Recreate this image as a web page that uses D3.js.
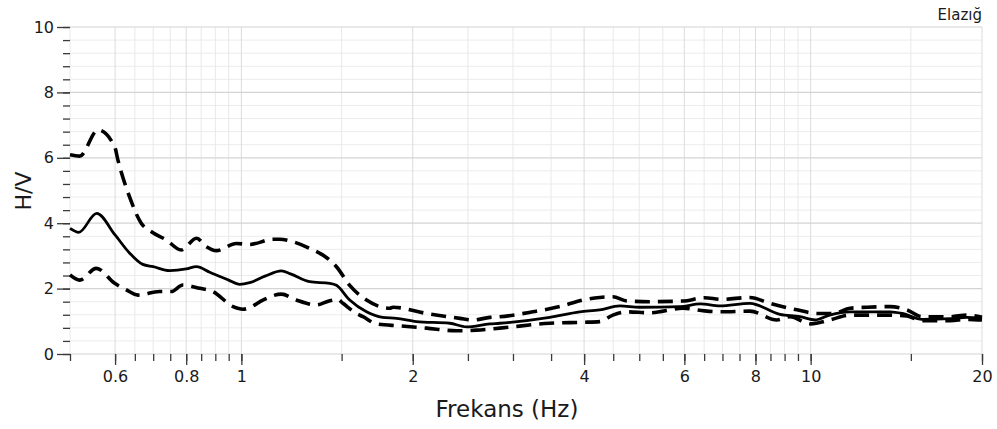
<!DOCTYPE html>
<html>
<head>
<meta charset="utf-8">
<script src="https://cdn.jsdelivr.net/npm/d3@7"></script>
<style>
  html, body { margin: 0; padding: 0; background: #fff; }
  svg { display: block; font-family: "DejaVu Sans", Verdana, sans-serif; }
</style>
</head>
<body>
<svg id="chart" width="997" height="429"></svg>
<script>
// ---- data ----
const meanFreq = [0.50, 0.518, 0.557, 0.60, 0.636, 0.671, 0.70, 0.748, 0.80, 0.834, 0.88, 0.95, 0.993, 1.034, 1.10, 1.176, 1.22, 1.318, 1.43, 1.469, 1.55, 1.659, 1.77, 1.873, 2.03, 2.323, 2.486, 2.732, 2.844, 3.48, 3.93, 4.26, 4.62, 5.01, 5.90, 6.40, 6.93, 7.82, 8.83, 9.58, 10.18, 10.8, 11.73, 13.8, 14.5, 15.7, 17.6, 18.8, 20];
const meanHV   = [3.84, 3.72, 4.30, 3.64, 3.09, 2.74, 2.67, 2.55, 2.60, 2.67, 2.50, 2.26, 2.13, 2.18, 2.38, 2.54, 2.45, 2.21, 2.16, 2.10, 1.65, 1.29, 1.12, 1.09, 0.99, 0.94, 0.83, 0.92, 0.94, 1.12, 1.29, 1.35, 1.47, 1.43, 1.45, 1.53, 1.47, 1.55, 1.21, 1.14, 1.04, 1.19, 1.29, 1.29, 1.24, 1.06, 1.08, 1.12, 1.09];

const upperFreq = [0.50, 0.52, 0.56, 0.599, 0.607, 0.636, 0.667, 0.695, 0.738, 0.784, 0.834, 0.868, 0.904, 0.98, 1.034, 1.137, 1.168, 1.216, 1.318, 1.43, 1.469, 1.55, 1.659, 1.822, 1.847, 2.114, 2.42, 2.55, 2.732, 2.844, 3.251, 3.626, 3.98, 4.26, 4.493, 4.756, 5.219, 5.965, 6.508, 6.969, 7.82, 8.483, 9.461, 10.26, 10.94, 11.73, 12.56, 13.8, 14.76, 15.7, 17.6, 18.8, 20];
const upperHV   = [6.09, 6.05, 6.85, 6.34, 5.93, 4.81, 4.00, 3.74, 3.49, 3.18, 3.54, 3.28, 3.16, 3.38, 3.35, 3.51, 3.51, 3.46, 3.23, 2.87, 2.67, 2.10, 1.65, 1.40, 1.43, 1.24, 1.09, 1.04, 1.12, 1.14, 1.29, 1.45, 1.65, 1.73, 1.75, 1.62, 1.60, 1.62, 1.72, 1.67, 1.73, 1.55, 1.35, 1.24, 1.24, 1.40, 1.43, 1.45, 1.35, 1.14, 1.14, 1.19, 1.12];

const lowerFreq = [0.50, 0.52, 0.556, 0.599, 0.628, 0.658, 0.718, 0.753, 0.789, 0.845, 0.891, 0.967, 1.006, 1.034, 1.091, 1.176, 1.249, 1.355, 1.43, 1.476, 1.508, 1.592, 1.636, 1.727, 1.898, 2.114, 2.388, 2.588, 2.844, 3.48, 3.98, 4.26, 4.493, 4.756, 5.219, 5.965, 6.508, 6.969, 7.82, 8.727, 9.195, 10.01, 10.8, 11.73, 13.8, 14.76, 15.7, 17.6, 18.8, 20];
const lowerHV   = [2.42, 2.26, 2.62, 2.16, 1.96, 1.80, 1.91, 1.91, 2.11, 2.01, 1.91, 1.45, 1.37, 1.42, 1.65, 1.83, 1.65, 1.50, 1.63, 1.67, 1.55, 1.24, 1.14, 0.92, 0.86, 0.79, 0.71, 0.73, 0.79, 0.94, 0.97, 0.99, 1.19, 1.29, 1.26, 1.40, 1.32, 1.29, 1.31, 1.04, 1.14, 0.92, 1.04, 1.19, 1.19, 1.16, 1.02, 1.02, 1.06, 1.04];

const xMinorTicks = [0.5, 0.6, 0.65, 0.7, 0.75, 0.8, 0.85, 0.9, 0.95, 1, 1.5, 2, 2.5, 3, 3.5, 4, 4.5, 5, 5.5, 6, 6.5, 7, 7.5, 8, 8.5, 9, 9.5, 10, 15, 20];
const xMajorTicks = [0.6, 0.8, 1, 2, 4, 6, 8, 10, 20];
const yMajorTicks = [0, 2, 4, 6, 8, 10];
const yMinorTicks = [0, 0.4, 0.8, 1.2, 1.6, 2, 2.4, 2.8, 3.2, 3.6, 4, 4.4, 4.8, 5.2, 5.6, 6, 6.4, 6.8, 7.2, 7.6, 8, 8.4, 8.8, 9.2, 9.6, 10];

const xTitle = "Frekans (Hz)";
const yTitle = "H/V";
const siteLabel = "Elazığ";

// ---- layout ----
const W = 997, H = 429;
const m = { left: 70, right: 15, top: 27, bottom: 75 };
const svg = d3.select("#chart");

const x = d3.scaleLog().domain([0.5, 20]).range([m.left, W - m.right]);
const y = d3.scaleLinear().domain([0, 10]).range([H - m.bottom, m.top]);

// grid - horizontal minor
const g = svg.append("g");
g.selectAll("line.hmin").data(yMinorTicks.filter(v => !yMajorTicks.includes(v)))
  .join("line").attr("x1", m.left).attr("x2", W - m.right)
  .attr("y1", d => y(d)).attr("y2", d => y(d))
  .attr("stroke", "#ececec").attr("stroke-width", 1);
// vertical grid
g.selectAll("line.v").data(xMinorTicks)
  .join("line").attr("y1", m.top).attr("y2", H - m.bottom)
  .attr("x1", d => x(d)).attr("x2", d => x(d))
  .attr("stroke", d => xMajorTicks.includes(d) ? "#dcdcdc" : "#e9e9e9").attr("stroke-width", 1);
// horizontal major
g.selectAll("line.hmaj").data(yMajorTicks)
  .join("line").attr("x1", m.left).attr("x2", W - m.right)
  .attr("y1", d => y(d)).attr("y2", d => y(d))
  .attr("stroke", "#d4d4d4").attr("stroke-width", 1.2);

// axes
const xMinorAxis = d3.axisBottom(x).tickValues(xMinorTicks).tickSize(7).tickFormat("");
const xMajorAxis = d3.axisBottom(x).tickValues(xMajorTicks).tickSize(11).tickPadding(6).tickFormat(d => String(d));
const yMinorAxis = d3.axisLeft(y).tickValues(yMinorTicks).tickSize(7).tickFormat("");
const yMajorAxis = d3.axisLeft(y).tickValues(yMajorTicks).tickSize(13).tickPadding(3).tickFormat(d => String(d));

function styleAxis(sel) {
  sel.select(".domain").remove();
  sel.selectAll(".tick line").attr("stroke", "#3a3a3a").attr("stroke-width", 1.3);
  sel.selectAll(".tick text").attr("fill", "#1a1a1a").style("font-size", "16px")
    .style("font-family", "'DejaVu Sans', Verdana, sans-serif");
}
svg.append("g").attr("transform", `translate(0,${H - m.bottom})`).call(xMinorAxis).call(styleAxis);
svg.append("g").attr("transform", `translate(0,${H - m.bottom})`).call(xMajorAxis).call(styleAxis);
svg.append("g").attr("transform", `translate(${m.left},0)`).call(yMinorAxis).call(styleAxis);
svg.append("g").attr("transform", `translate(${m.left},0)`).call(yMajorAxis).call(styleAxis);

// curves
const line = d3.line().x(d => x(d[0])).y(d => y(d[1])).curve(d3.curveMonotoneX);
const zip = (a, b) => a.map((v, i) => [v, b[i]]);

svg.append("path").datum(zip(upperFreq, upperHV)).attr("d", line)
  .attr("fill", "none").attr("stroke", "#000").attr("stroke-width", 3.6)
  .attr("stroke-dasharray", "15,8");
svg.append("path").datum(zip(lowerFreq, lowerHV)).attr("d", line)
  .attr("fill", "none").attr("stroke", "#000").attr("stroke-width", 3.6)
  .attr("stroke-dasharray", "15,8");
svg.append("path").datum(zip(meanFreq, meanHV)).attr("d", line)
  .attr("fill", "none").attr("stroke", "#000").attr("stroke-width", 2.8);

// titles
svg.append("text").attr("x", 507).attr("y", 417)
  .attr("text-anchor", "middle").style("font-size", "23px").attr("fill", "#1a1a1a").text(xTitle);
svg.append("text").attr("transform", `translate(31,191) rotate(-90)`)
  .attr("text-anchor", "middle").style("font-size", "22px").attr("fill", "#1a1a1a").text(yTitle);
svg.append("text").attr("x", W - m.right).attr("y", 20)
  .attr("text-anchor", "end").style("font-size", "15px").attr("fill", "#1a1a1a").text(siteLabel);
</script>
</body>
</html>
